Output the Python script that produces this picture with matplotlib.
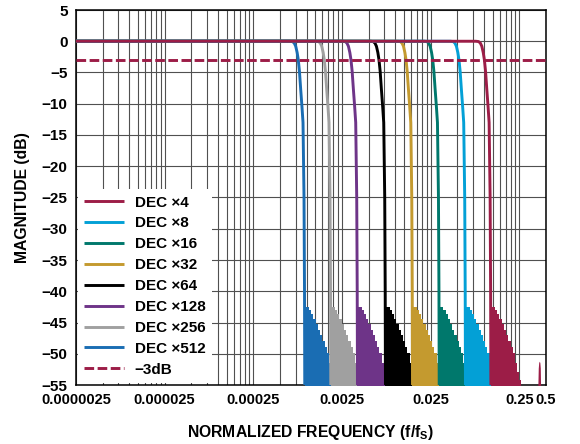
import matplotlib
matplotlib.use('Agg')
import matplotlib.pyplot as plt
import numpy as np

# fonts: bold Arial-like everywhere
plt.rcParams['font.family'] = ['Liberation Sans', 'DejaVu Sans']
plt.rcParams['font.weight'] = 'bold'
plt.rcParams['mathtext.fontset'] = 'custom'
plt.rcParams['mathtext.rm'] = 'Liberation Sans:bold'
plt.rcParams['mathtext.it'] = 'Liberation Sans:bold'
plt.rcParams['mathtext.bf'] = 'Liberation Sans:bold'

# series (DEC x4 ... DEC x512)
labels = ['DEC ×4', 'DEC ×8', 'DEC ×16', 'DEC ×32',
          'DEC ×64', 'DEC ×128', 'DEC ×256', 'DEC ×512']
colors = ['#9c1d47', '#03a0d6', '#00786c', '#c49a2f',
          '#000000', '#6e3488', '#a0a0a0', '#1a6db3']
# -3 dB frequency of each filter (f/fs)
f_3db = [0.101, 0.0522, 0.0264, 0.0132, 0.00654, 0.00316, 0.00158, 0.000804]

# transition band, frequency as multiple of the -3 dB point
roll_r = [0.80, 0.86, 0.90, 0.935, 0.97, 1.0, 1.03, 1.064, 1.10, 1.13, 1.16, 1.175, 1.183]
roll_db = [0, -0.05, -0.3, -0.8, -1.8, -3.0, -4.8, -7.7, -10.5, -13.0, -25.0, -40.0, -56.0]

# stopband envelope (stepped), same units
stop_r = [1.181, 1.320, 1.401, 1.476, 1.571, 1.668, 1.757, 1.865, 1.985, 2.090, 2.220, 2.357, 2.482, 2.574]
stop_db = [-42.5, -43.0, -43.7, -44.5, -45.3, -46.2, -47.0, -47.9, -48.9, -49.9, -51.4, -52.9, -54.2, -55.0]

# small spur of DEC x4 near 0.42
spur_f = [0.405, 0.409, 0.414, 0.420, 0.426, 0.431, 0.434]
spur_db = [-55.0, -52.3, -51.4, -51.2, -51.4, -52.3, -55.0]

x_start = 2.5e-6
x_ticks = [2.5e-6, 2.5e-5, 2.5e-4, 2.5e-3, 2.5e-2, 0.25, 0.5]
x_tick_labels = ['0.0000025', '0.000025', '0.00025', '0.0025', '0.025', '0.25', '0.5']
y_ticks = list(range(5, -60, -5))
y_tick_labels = ['5', '0', '−5', '−10', '−15', '−20', '−25', '−30',
                 '−35', '−40', '−45', '−50', '−55']

fig = plt.figure(figsize=(5.8, 4.44), dpi=100)
ax = fig.add_axes([76 / 580, 1 - 385 / 444, 470 / 580, 375 / 444])

handles = [None] * len(labels)
for i in range(len(labels) - 1, -1, -1):
    f3 = f_3db[i]
    c = colors[i]
    sx = np.array(stop_r) * f3
    ax.fill_between(sx, stop_db, -60, step='post', color=c, lw=0, zorder=3)
    lx = [x_start] + [r * f3 for r in roll_r]
    ly = [0] + roll_db
    h, = ax.plot(lx, ly, color=c, lw=2.1, zorder=3, label=labels[i],
                 solid_capstyle='butt')
    handles[i] = h
    if i == 0:
        ax.fill_between(spur_f, spur_db, -60, color=c, lw=0, zorder=3)

h3, = ax.plot([x_start, 0.5], [-3, -3], color='#9c1d47', lw=2.1,
              ls=(0, (3.3, 1.2)), zorder=4, label='−3dB')
handles.append(h3)

ax.set_xscale('log')
ax.set_xlim(2.5e-6, 0.5)
ax.set_ylim(-55, 5)

# grid: multiples of 2.5e-6 in each decade
minor = []
for k in range(5):
    for n in range(2, 10):
        minor.append(2.5e-6 * 10 ** k * n)
ax.set_xticks(x_ticks)
ax.set_xticklabels(x_tick_labels)
ax.set_xticks(minor, minor=True)
ax.xaxis.set_minor_formatter(matplotlib.ticker.NullFormatter())
ax.set_yticks(y_ticks)
ax.set_yticklabels(y_tick_labels)
ax.grid(True, which='both', color='#505050', lw=0.8, zorder=1)
ax.set_axisbelow(True)
ax.tick_params(which='both', length=0)
ax.tick_params(axis='x', pad=6, labelsize=10.5)
ax.tick_params(axis='y', pad=6, labelsize=11)
for s in ax.spines.values():
    s.set_linewidth(1.1)
    s.set_color('black')

ax.set_xlabel('NORMALIZED FREQUENCY (f/f$_S$)', fontsize=11.3, fontweight='bold')
ax.xaxis.set_label_coords(0.5, -0.102)
ax.set_ylabel('MAGNITUDE (dB)', fontsize=11.3, fontweight='bold')
ax.yaxis.set_label_coords(-0.098, 0.5)

leg = ax.legend(handles=handles, loc='lower left', fontsize=11,
                handlelength=2.6, handletextpad=0.7, borderaxespad=0.15,
                labelspacing=0.45, frameon=True, fancybox=False)
leg.get_frame().set_edgecolor('none')
leg.get_frame().set_facecolor('white')
leg.get_frame().set_alpha(1)

fig.savefig('out.png', dpi=100)
